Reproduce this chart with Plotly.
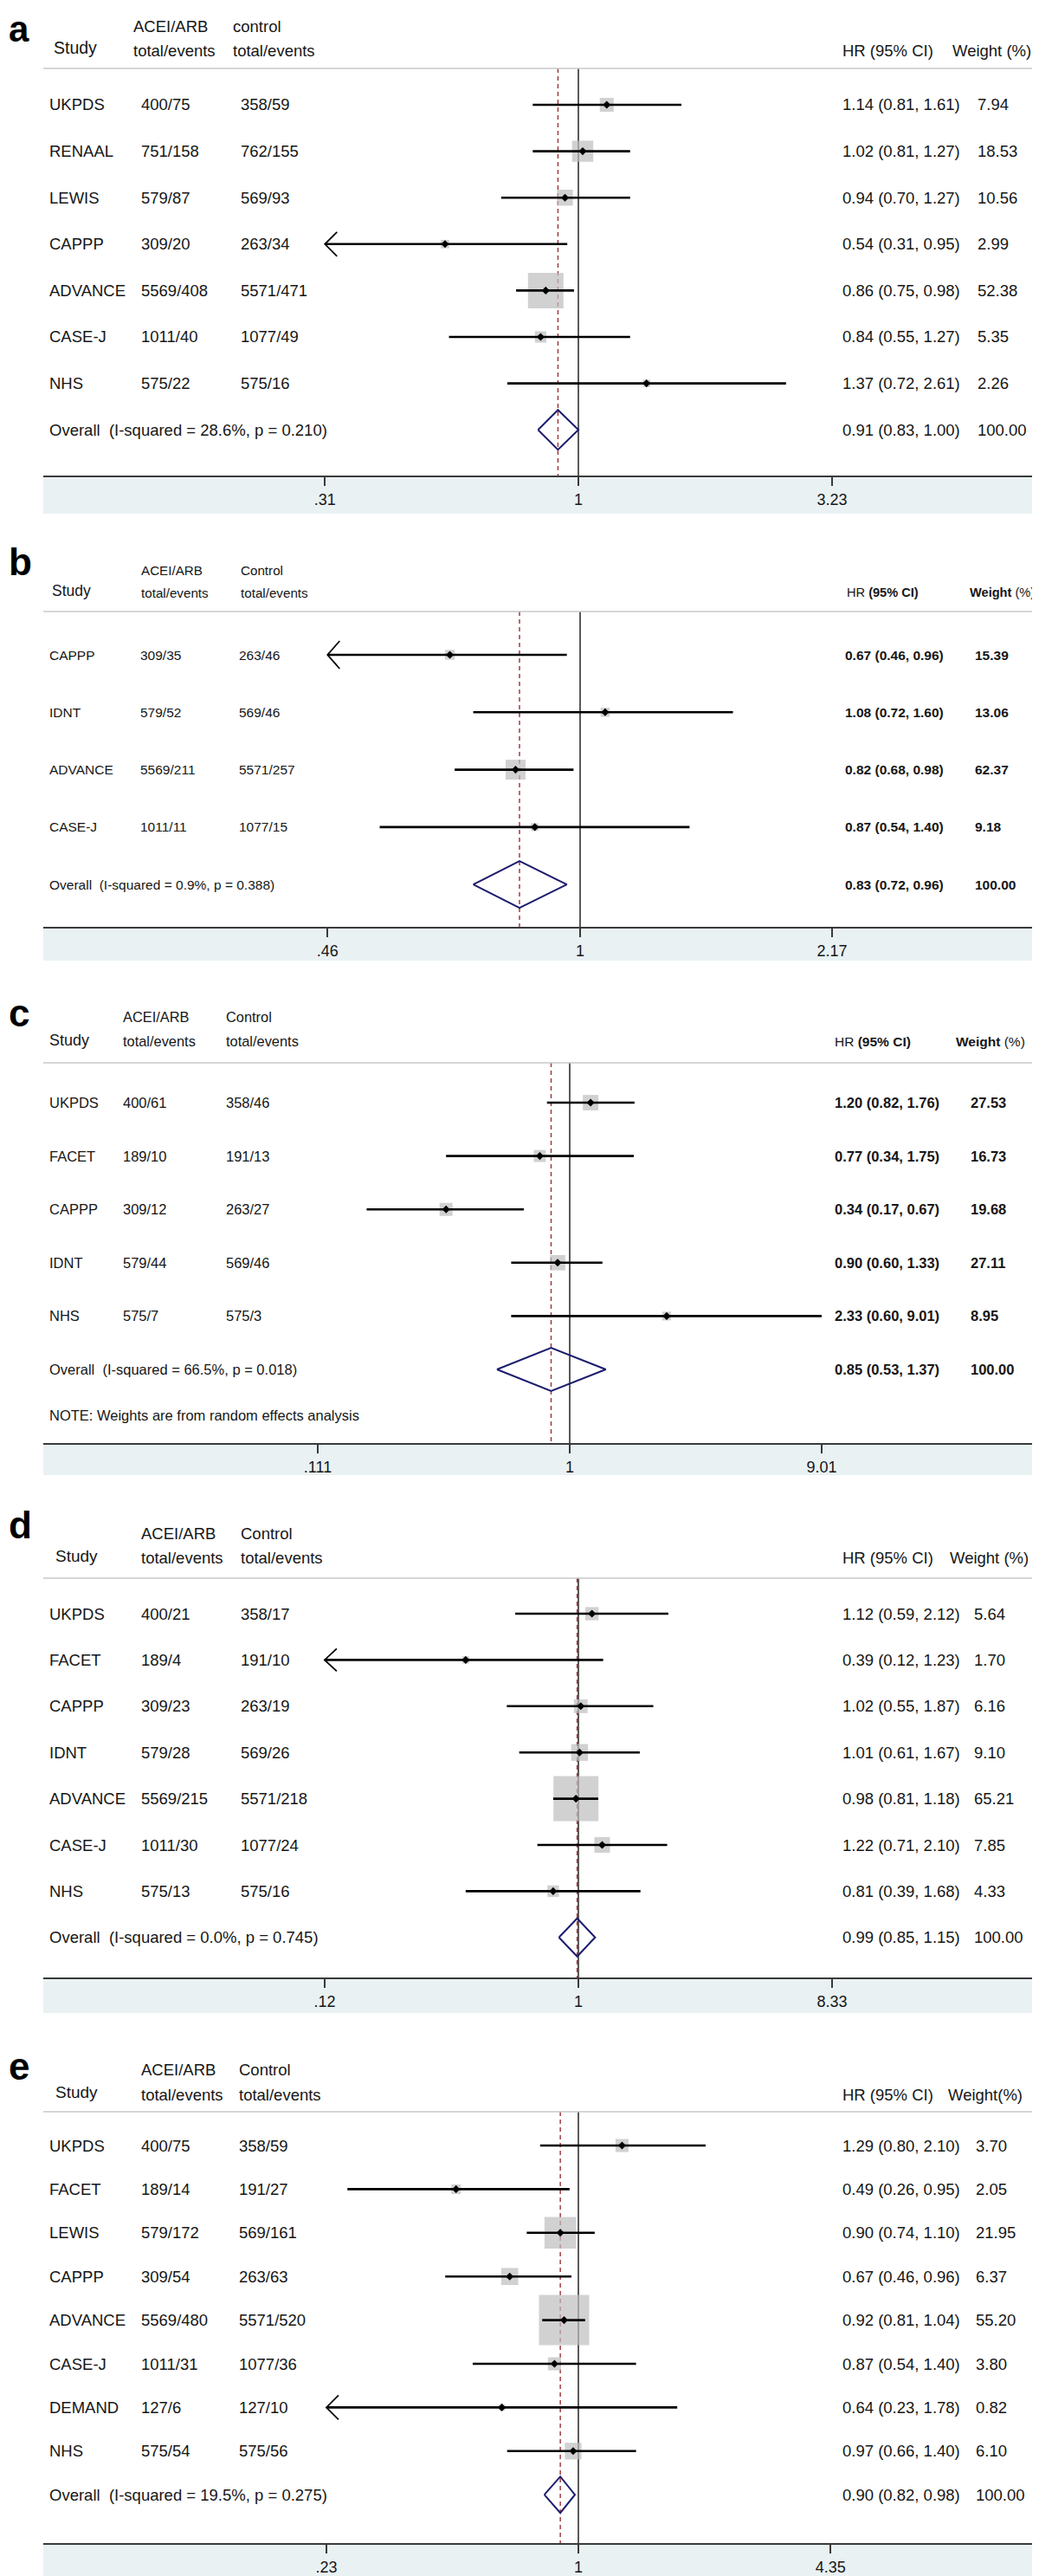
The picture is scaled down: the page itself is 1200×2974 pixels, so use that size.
import math
import plotly.graph_objects as go

W, H = 1200, 2974

# ---------------- data ----------------
# panel a
a_study = ["UKPDS", "RENAAL", "LEWIS", "CAPPP", "ADVANCE", "CASE-J", "NHS"]
a_treat = ["400/75", "751/158", "579/87", "309/20", "5569/408", "1011/40", "575/22"]
a_ctrl = ["358/59", "762/155", "569/93", "263/34", "5571/471", "1077/49", "575/16"]
a_hr = [1.14, 1.02, 0.94, 0.54, 0.86, 0.84, 1.37]
a_lo = [0.81, 0.81, 0.70, 0.31, 0.75, 0.55, 0.72]
a_hi = [1.61, 1.27, 1.27, 0.95, 0.98, 1.27, 2.61]
a_wt = [7.94, 18.53, 10.56, 2.99, 52.38, 5.35, 2.26]
a_overall = [0.91, 0.83, 1.00]
a_overall_label = "Overall\u00a0\u00a0(I-squared = 28.6%, p = 0.210)"
a_ticks = [0.31, 1, 3.23]
a_ticktext = [".31", "1", "3.23"]

# panel b
b_study = ["CAPPP", "IDNT", "ADVANCE", "CASE-J"]
b_treat = ["309/35", "579/52", "5569/211", "1011/11"]
b_ctrl = ["263/46", "569/46", "5571/257", "1077/15"]
b_hr = [0.67, 1.08, 0.82, 0.87]
b_lo = [0.46, 0.72, 0.68, 0.54]
b_hi = [0.96, 1.60, 0.98, 1.40]
b_wt = [15.39, 13.06, 62.37, 9.18]
b_overall = [0.83, 0.72, 0.96]
b_overall_label = "Overall\u00a0\u00a0(I-squared = 0.9%, p = 0.388)"
b_ticks = [0.46, 1, 2.17]
b_ticktext = [".46", "1", "2.17"]

# panel c
c_study = ["UKPDS", "FACET", "CAPPP", "IDNT", "NHS"]
c_treat = ["400/61", "189/10", "309/12", "579/44", "575/7"]
c_ctrl = ["358/46", "191/13", "263/27", "569/46", "575/3"]
c_hr = [1.20, 0.77, 0.34, 0.90, 2.33]
c_lo = [0.82, 0.34, 0.17, 0.60, 0.60]
c_hi = [1.76, 1.75, 0.67, 1.33, 9.01]
c_wt = [27.53, 16.73, 19.68, 27.11, 8.95]
c_overall = [0.85, 0.53, 1.37]
c_overall_label = "Overall\u00a0\u00a0(I-squared = 66.5%, p = 0.018)"
c_note = "NOTE: Weights are from random effects analysis"
c_ticks = [0.111, 1, 9.01]
c_ticktext = [".111", "1", "9.01"]

# panel d
d_study = ["UKPDS", "FACET", "CAPPP", "IDNT", "ADVANCE", "CASE-J", "NHS"]
d_treat = ["400/21", "189/4", "309/23", "579/28", "5569/215", "1011/30", "575/13"]
d_ctrl = ["358/17", "191/10", "263/19", "569/26", "5571/218", "1077/24", "575/16"]
d_hr = [1.12, 0.39, 1.02, 1.01, 0.98, 1.22, 0.81]
d_lo = [0.59, 0.12, 0.55, 0.61, 0.81, 0.71, 0.39]
d_hi = [2.12, 1.23, 1.87, 1.67, 1.18, 2.10, 1.68]
d_wt = [5.64, 1.70, 6.16, 9.10, 65.21, 7.85, 4.33]
d_overall = [0.99, 0.85, 1.15]
d_overall_label = "Overall\u00a0\u00a0(I-squared = 0.0%, p = 0.745)"
d_ticks = [0.12, 1, 8.33]
d_ticktext = [".12", "1", "8.33"]

# panel e
e_study = ["UKPDS", "FACET", "LEWIS", "CAPPP", "ADVANCE", "CASE-J", "DEMAND", "NHS"]
e_treat = ["400/75", "189/14", "579/172", "309/54", "5569/480", "1011/31", "127/6", "575/54"]
e_ctrl = ["358/59", "191/27", "569/161", "263/63", "5571/520", "1077/36", "127/10", "575/56"]
e_hr = [1.29, 0.49, 0.90, 0.67, 0.92, 0.87, 0.64, 0.97]
e_lo = [0.80, 0.26, 0.74, 0.46, 0.81, 0.54, 0.23, 0.66]
e_hi = [2.10, 0.95, 1.10, 0.96, 1.04, 1.40, 1.78, 1.40]
e_wt = [3.70, 2.05, 21.95, 6.37, 55.20, 3.80, 0.82, 6.10]
e_overall = [0.90, 0.82, 0.98]
e_overall_label = "Overall\u00a0\u00a0(I-squared = 19.5%, p = 0.275)"
e_ticks = [0.23, 1, 4.35]
e_ticktext = [".23", "1", "4.35"]

panels = [
    dict(letter="a", study=a_study, treat=a_treat, ctrl=a_ctrl, hr=a_hr, lo=a_lo, hi=a_hi, wt=a_wt,
         overall=a_overall, olabel=a_overall_label, ticks=a_ticks, ticktext=a_ticktext,
         ctrl_head="control", hr_head="HR (95% CI)", wt_head="Weight (%)", note=None),
    dict(letter="b", study=b_study, treat=b_treat, ctrl=b_ctrl, hr=b_hr, lo=b_lo, hi=b_hi, wt=b_wt,
         overall=b_overall, olabel=b_overall_label, ticks=b_ticks, ticktext=b_ticktext,
         ctrl_head="Control", hr_head="HR <b>(95% CI)</b>", wt_head="<b>Weight</b> (%)", note=None),
    dict(letter="c", study=c_study, treat=c_treat, ctrl=c_ctrl, hr=c_hr, lo=c_lo, hi=c_hi, wt=c_wt,
         overall=c_overall, olabel=c_overall_label, ticks=c_ticks, ticktext=c_ticktext,
         ctrl_head="Control", hr_head="HR <b>(95% CI)</b>", wt_head="<b>Weight</b> (%)", note=c_note),
    dict(letter="d", study=d_study, treat=d_treat, ctrl=d_ctrl, hr=d_hr, lo=d_lo, hi=d_hi, wt=d_wt,
         overall=d_overall, olabel=d_overall_label, ticks=d_ticks, ticktext=d_ticktext,
         ctrl_head="Control", hr_head="HR (95% CI)", wt_head="Weight (%)", note=None),
    dict(letter="e", study=e_study, treat=e_treat, ctrl=e_ctrl, hr=e_hr, lo=e_lo, hi=e_hi, wt=e_wt,
         overall=e_overall, olabel=e_overall_label, ticks=e_ticks, ticktext=e_ticktext,
         ctrl_head="Control", hr_head="HR (95% CI)", wt_head="Weight(%)", note=None),
]

# ---------------- layout geometry (pixels) ----------------
geos = [
    dict(letter_y=None, h1=23, h2=50, study_y=47, hline=71, row0=113, step=53.6, axis=541, band=585,
         px1=660, ppd=575.6, col=[47, 153, 268], hcol=[52, 144, 259], hr_x=963, wt_x=1119,
         hrh_x=963, wth_x=1090, fs=18.5, hfs=18.5, sfs=19.5, rfs=18.5, bold=False, box=5.665, dh=23,
         ady=14, note_y=None),
    dict(letter_y=640, h1=650, h2=676, study_y=674, hline=698, row0=748, step=66.3, axis=1062, band=1101,
         px1=662, ppd=865.0, col=[47, 151.5, 266], hcol=[50, 153, 268], hr_x=966, wt_x=1116,
         hrh_x=968, wth_x=1110, fs=15.5, hfs=15.2, sfs=17.5, rfs=14.6, bold=True, box=2.91, dh=27,
         ady=16, note_y=None),
    dict(letter_y=1161, h1=1166, h2=1194, study_y=1193, hline=1219, row0=1265, step=61.6, axis=1658, band=1695,
         px1=650, ppd=304.8, col=[47, 131.6, 251], hcol=[47, 131.6, 251], hr_x=954, wt_x=1111,
         hrh_x=954, wth_x=1094, fs=16.5, hfs=16.4, sfs=18, rfs=15.5, bold=True, box=3.4, dh=25,
         ady=14, note_y=1626),
    dict(letter_y=1752, h1=1762, h2=1791, study_y=1788, hline=1814, row0=1855, step=53.4, axis=2275, band=2316,
         px1=660, ppd=318.3, col=[47, 153, 268], hcol=[54, 153, 268], hr_x=963, wt_x=1115,
         hrh_x=963, wth_x=1087, fs=18.5, hfs=18.5, sfs=19, rfs=18.5, bold=False, box=6.44, dh=22,
         ady=13, note_y=None),
    dict(letter_y=2377, h1=2381, h2=2410, study_y=2407, hline=2430, row0=2469, step=50.4, axis=2928, band=2974,
         px1=660, ppd=456.0, col=[47, 153, 266], hcol=[54, 153, 266], hr_x=963, wt_x=1117,
         hrh_x=963, wth_x=1085, fs=18.5, hfs=18.5, sfs=19, rfs=18.5, bold=False, box=7.8, dh=21,
         ady=14, note_y=None),
]

FONT = "Liberation Sans, Arial, Helvetica, sans-serif"
TXT = "#161616"
AX = "#3a3a3a"
BOX = "#bdbdbd"
NAVY = "#1c1c6e"
RED = "#9b3035"
BAND = "#e9f1f3"
HLINE = "#c9c9c9"
XL, XR = 42, 1198

fig = go.Figure()
axes = {}
shapes = []
ann = []


def yp(px):
    return 1 - px / H


for i, (p, g) in enumerate(zip(panels, geos), start=1):
    xa = "x" if i == 1 else f"x{i}"
    ya = "y" if i == 1 else f"y{i}"
    xname = "xaxis" if i == 1 else f"xaxis{i}"
    yname = "yaxis" if i == 1 else f"yaxis{i}"
    n = len(p["study"])
    k_top = (g["hline"] - g["row0"]) / g["step"]
    k_bot = (g["axis"] - g["row0"]) / g["step"]

    axes[xname] = dict(type="log", domain=[XL / W, XR / W],
                       range=[(XL - g["px1"]) / g["ppd"], (XR - g["px1"]) / g["ppd"]],
                       anchor=ya, tickvals=p["ticks"], ticktext=p["ticktext"],
                       ticks="outside", ticklen=10, tickwidth=2, tickcolor=AX,
                       showline=True, linecolor=AX, linewidth=2, showgrid=False, zeroline=False,
                       tickfont=dict(size=18, color=TXT, family=FONT), ticklabelstandoff=0,
                       fixedrange=True)
    axes[yname] = dict(domain=[yp(g["axis"]), yp(g["hline"])], range=[k_bot, k_top],
                       anchor=xa, visible=False, fixedrange=True)

    common = dict(xaxis=xa, yaxis=ya, hoverinfo="skip", showlegend=False)
    ks = list(range(n))
    est, olo, ohi = p["overall"]

    # reference line at 1 and dashed line at overall estimate
    fig.add_trace(go.Scatter(x=[1, 1], y=[k_top, k_bot], mode="lines",
                             line=dict(color="black", width=1.3), **common))
    fig.add_trace(go.Scatter(x=[est, est], y=[k_top, k_bot], mode="lines",
                             line=dict(color=RED, width=1.4, dash="5px,4px"), **common))
    # weight boxes
    fig.add_trace(go.Scatter(x=p["hr"], y=ks, mode="markers",
                             marker=dict(symbol="square", color=BOX, line_width=0,
                                         size=[g["box"] * math.sqrt(w) for w in p["wt"]]), **common))
    # CI lines
    cx, cy = [], []
    for k, (lo, hi) in enumerate(zip(p["lo"], p["hi"])):
        cx += [lo, hi, None]
        cy += [k, k, None]
    fig.add_trace(go.Scatter(x=cx, y=cy, mode="lines", line=dict(color="black", width=2.6), **common))
    # arrows for CIs reaching the left axis limit
    axx, ayy = [], []
    for k, lo in enumerate(p["lo"]):
        if lo <= p["ticks"][0]:
            xb = 10 ** (math.log10(lo) + 14 / g["ppd"])
            dy = g["ady"] / g["step"]
            axx += [xb, lo, xb, None]
            ayy += [k - dy, k, k + dy, None]
    if axx:
        fig.add_trace(go.Scatter(x=axx, y=ayy, mode="lines", line=dict(color="black", width=1.8), **common))
    # point estimates
    fig.add_trace(go.Scatter(x=p["hr"], y=ks, mode="markers",
                             marker=dict(symbol="diamond", size=7, color="black"), **common))
    # overall diamond
    h = g["dh"] / g["step"]
    fig.add_trace(go.Scatter(x=[olo, est, ohi, est, olo], y=[n, n - h, n, n + h, n], mode="lines",
                             line=dict(color=NAVY, width=2), **common))

    # band and header line
    shapes.append(dict(type="rect", xref="paper", yref="paper", x0=XL / W, x1=1, y0=yp(g["band"]),
                       y1=yp(g["axis"]), fillcolor=BAND, line_width=0, layer="below"))
    shapes.append(dict(type="line", xref="paper", yref="paper", x0=XL / W, x1=XR / W, y0=yp(g["hline"]),
                       y1=yp(g["hline"]), line=dict(color=HLINE, width=1.6)))

    # texts
    def t(x, y, text, size, yref="paper", bold=False):
        ann.append(dict(x=x / W, y=y if yref != "paper" else yp(y), xref="paper", yref=yref,
                        text=("<b>%s</b>" % text) if bold else text, showarrow=False,
                        xanchor="left", yanchor="middle",
                        font=dict(size=size, color=TXT, family=FONT)))

    if g["letter_y"] is None:
        ann.append(dict(x=0, y=1, xref="paper", yref="paper", text="<b>%s</b>" % p["letter"],
                        showarrow=False, xanchor="left", yanchor="top",
                        font=dict(size=42, color="black", family=FONT)))
    else:
        ann.append(dict(x=0, y=yp(g["letter_y"]), xref="paper", yref="paper", text="<b>%s</b>" % p["letter"],
                        showarrow=False, xanchor="left", yanchor="middle",
                        font=dict(size=44, color="black", family=FONT)))
    t(g["hcol"][0], g["study_y"], "Study", g["sfs"])
    t(g["hcol"][1], g["h1"], "ACEI/ARB", g["hfs"])
    t(g["hcol"][1], g["h2"], "total/events", g["hfs"])
    t(g["hcol"][2], g["h1"], p["ctrl_head"], g["hfs"])
    t(g["hcol"][2], g["h2"], "total/events", g["hfs"])
    t(g["hrh_x"], g["h2"], p["hr_head"], g["rfs"])
    t(g["wth_x"], g["h2"], p["wt_head"], g["rfs"])

    for k in range(n):
        t(g["col"][0], k, p["study"][k], g["fs"], yref=ya)
        t(g["col"][1], k, p["treat"][k], g["fs"], yref=ya)
        t(g["col"][2], k, p["ctrl"][k], g["fs"], yref=ya)
        t(g["hr_x"], k, "%.2f (%.2f, %.2f)" % (p["hr"][k], p["lo"][k], p["hi"][k]), g["fs"], yref=ya, bold=g["bold"])
        t(g["wt_x"], k, "%.2f" % p["wt"][k], g["fs"], yref=ya, bold=g["bold"])
    t(g["col"][0], n, p["olabel"], g["fs"], yref=ya)
    t(g["hr_x"], n, "%.2f (%.2f, %.2f)" % (est, olo, ohi), g["fs"], yref=ya, bold=g["bold"])
    t(g["wt_x"], n, "100.00", g["fs"], yref=ya, bold=g["bold"])
    if p["note"]:
        t(g["col"][0], g["note_y"], p["note"], g["fs"])

fig.update_layout(width=W, height=H, margin=dict(l=0, r=0, t=0, b=0),
                  paper_bgcolor="white", plot_bgcolor="white", showlegend=False,
                  font=dict(family=FONT, color=TXT), shapes=shapes, annotations=ann, **axes)
fig.write_html("out.html")
